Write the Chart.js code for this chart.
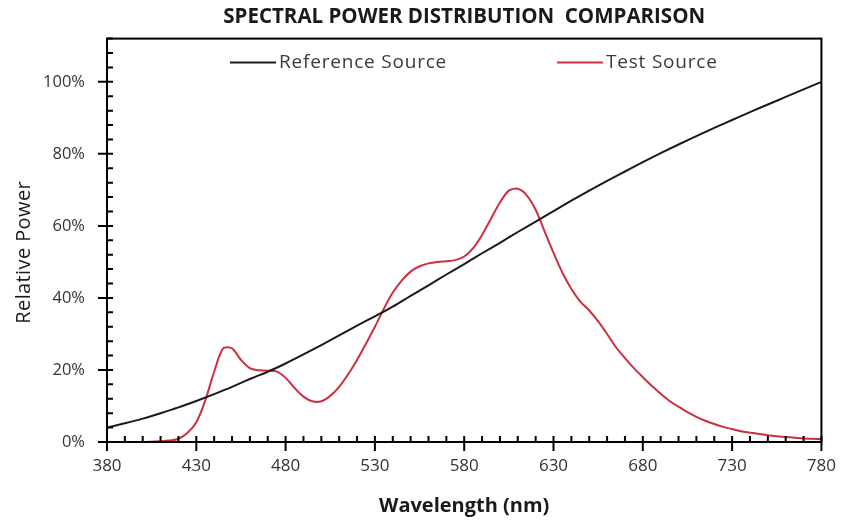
<!DOCTYPE html>
<html>
<head>
<meta charset="utf-8">
<script src="https://cdn.jsdelivr.net/npm/chart.js@4.4.0/dist/chart.umd.min.js"></script>
<style>
    html, body { margin: 0; padding: 0; background: #fff; }
    #wrap { width: 850px; height: 524px; }
</style>
</head>
<body>
<div id="wrap"><canvas id="spdChart"></canvas></div>
<script>
// Reference source, read every 10 nm
const refWavelengths = [380, 390, 400, 410, 420, 430, 440, 450, 460, 470, 480, 490, 500, 510, 520, 530, 540, 550, 560, 570,
    580, 590, 600, 610, 620, 630, 640, 650, 660, 670, 680, 690, 700, 710, 720, 730, 740, 750, 760, 770, 780];
const refPower = [4.0, 5.2, 6.5, 8.0, 9.6, 11.4, 13.3, 15.3, 17.5, 19.5, 21.8, 24.3, 26.9, 29.6, 32.3, 34.9, 37.6, 40.6, 43.5, 46.5,
    49.4, 52.4, 55.3, 58.3, 61.2, 64.1, 67.0, 69.8, 72.5, 75.1, 77.7, 80.2, 82.6, 84.9, 87.2, 89.4, 91.6, 93.7, 95.8, 97.9, 100];

// Test source, read every 5 nm
const testWavelengths = [380, 385, 390, 395, 400, 405, 410, 415, 420, 425, 430, 435, 440, 445, 450, 455, 460, 465, 470, 475,
    480, 485, 490, 495, 500, 505, 510, 515, 520, 525, 530, 535, 540, 545, 550, 555, 560, 565, 570, 575,
    580, 585, 590, 595, 600, 605, 610, 615, 620, 625, 630, 635, 640, 645, 650, 655, 660, 665, 670, 675,
    680, 685, 690, 695, 700, 705, 710, 715, 720, 725, 730, 735, 740, 745, 750, 755, 760, 765, 770, 775, 780];
const testPower = [0, 0, 0, 0, 0, 0.1, 0.2, 0.4, 0.9, 2.5, 5.5, 11.5, 19.5, 26.0, 26.0, 22.8, 20.5, 19.9, 19.8, 19.6,
    17.8, 15.0, 12.6, 11.3, 11.3, 12.8, 15.3, 18.8, 22.8, 27.3, 32.0, 37.0, 41.5, 44.8, 47.3, 48.8, 49.6, 50.0, 50.2, 50.5,
    51.5, 53.8, 57.5, 62.0, 66.5, 69.8, 70.3, 68.5, 64.5, 58.5, 52.5, 47.0, 42.5, 39.0, 36.5, 33.5, 30.0, 26.3, 23.3, 20.5,
    18.0, 15.6, 13.4, 11.4, 9.8, 8.3, 7.0, 5.9, 5.0, 4.2, 3.6, 3.0, 2.6, 2.2, 1.9, 1.6, 1.4, 1.2, 1.0, 0.9, 0.8];

const xMajorTicks = [380, 430, 480, 530, 580, 630, 680, 730, 780];
const yMajorTicks = [0, 20, 40, 60, 80, 100];
const xMinorStep = 10;
const yMinorStep = 4;

const seriesNames = ['Reference Source', 'Test Source'];
const seriesColors = ['#1a1a1a', '#cc2f3e'];
const yAxisTitle = 'Relative Power';

const labelFont = '"Open Sans", "DejaVu Sans", sans-serif';

function toPoints(xs, ys) {
    return xs.map((x, i) => ({ x: x, y: ys[i] }));
}

// Box around the plot, tick marks, y title and the legend inside the plot
const frameAndTicks = {
    id: 'frameAndTicks',
    afterDraw(chart) {
        const c = chart.ctx;
        const area = chart.chartArea;
        const xs = chart.scales.x;
        const ys = chart.scales.y;
        c.save();
        c.strokeStyle = '#000000';
        c.lineWidth = 2;
        // minor ticks point inwards, major ticks cross the axis
        c.beginPath();
        for (let v = xs.min; v <= xs.max; v += xMinorStep) {
            const px = xs.getPixelForValue(v);
            const major = xMajorTicks.includes(v);
            c.moveTo(px, area.bottom - 6);
            c.lineTo(px, area.bottom + (major ? 9 : 0));
        }
        for (let v = ys.min; v <= ys.max; v += yMinorStep) {
            const py = ys.getPixelForValue(v);
            const major = yMajorTicks.includes(v);
            c.moveTo(area.left - (major ? 9 : 0), py);
            c.lineTo(area.left + 6, py);
        }
        c.stroke();
        c.strokeRect(area.left, area.top, area.right - area.left, area.bottom - area.top);

        // y axis title, sits a little below the middle of the axis
        c.save();
        c.translate(24, (area.top + area.bottom) / 2 + 12);
        c.rotate(-Math.PI / 2);
        c.font = '20px ' + labelFont;
        c.letterSpacing = '0.4px';
        c.fillStyle = '#1a1a1a';
        c.textAlign = 'center';
        c.textBaseline = 'middle';
        c.fillText(yAxisTitle, 0, 0);
        c.restore();

        // legend
        c.font = '19px ' + labelFont;
        c.letterSpacing = '0.8px';
        c.textBaseline = 'middle';
        c.fillStyle = '#3a3a3a';
        const legendY = area.top + 24;
        const starts = [area.left + 123, area.left + 450];
        chart.data.datasets.forEach((ds, i) => {
            c.strokeStyle = ds.borderColor;
            c.lineWidth = 2;
            c.beginPath();
            c.moveTo(starts[i], legendY);
            c.lineTo(starts[i] + 46, legendY);
            c.stroke();
            c.fillText(ds.label, starts[i] + 49, legendY);
        });
        c.restore();
    }
};

document.addEventListener('DOMContentLoaded', function() {
    const ctx = document.getElementById('spdChart');

    new Chart(ctx, {
        type: 'line',
        data: {
            datasets: [
                {
                    label: seriesNames[0],
                    data: toPoints(refWavelengths, refPower),
                    borderColor: seriesColors[0],
                    borderWidth: 2,
                    pointRadius: 0,
                    cubicInterpolationMode: 'monotone'
                },
                {
                    label: seriesNames[1],
                    data: toPoints(testWavelengths, testPower),
                    borderColor: seriesColors[1],
                    borderWidth: 2,
                    pointRadius: 0,
                    tension: 0.3
                }
            ]
        },
        options: {
            responsive: true,
            maintainAspectRatio: false,
            animation: false,
            layout: { padding: { left: 0, right: 21, top: 0, bottom: 0 } },
            plugins: {
                legend: { display: false },
                tooltip: { enabled: false },
                title: {
                    display: true,
                    fullSize: false,
                    text: 'SPECTRAL POWER DISTRIBUTION  COMPARISON',
                    color: '#1a1a1a',
                    font: { family: labelFont, size: 20.5, weight: 'bold' },
                    padding: { top: 5, bottom: 9 }
                }
            },
            scales: {
                x: {
                    type: 'linear',
                    min: 380,
                    max: 780,
                    grid: { display: false, drawTicks: false },
                    border: { display: false },
                    ticks: {
                        stepSize: xMinorStep,
                        autoSkip: false,
                        maxRotation: 0,
                        padding: 14,
                        color: '#333',
                        font: { family: labelFont, size: 17 },
                        callback: function(value) {
                            return xMajorTicks.includes(value) ? String(value) : '';
                        }
                    },
                    title: {
                        display: true,
                        text: 'Wavelength (nm)',
                        color: '#1a1a1a',
                        font: { family: labelFont, size: 20, weight: 'bold' },
                        padding: { top: 4, bottom: 6 }
                    },
                    afterFit: function(scale) { scale.height = 82; }
                },
                y: {
                    min: 0,
                    max: 112,
                    grid: { display: false, drawTicks: false },
                    border: { display: false },
                    ticks: {
                        stepSize: yMinorStep,
                        autoSkip: false,
                        padding: 22,
                        color: '#333',
                        font: { family: labelFont, size: 16.5 },
                        callback: function(value) {
                            return yMajorTicks.includes(value) ? value + '%' : '';
                        }
                    },
                    afterFit: function(scale) { scale.width = 107; }
                }
            }
        },
        plugins: [frameAndTicks]
    });
});
</script>
</body>
</html>
